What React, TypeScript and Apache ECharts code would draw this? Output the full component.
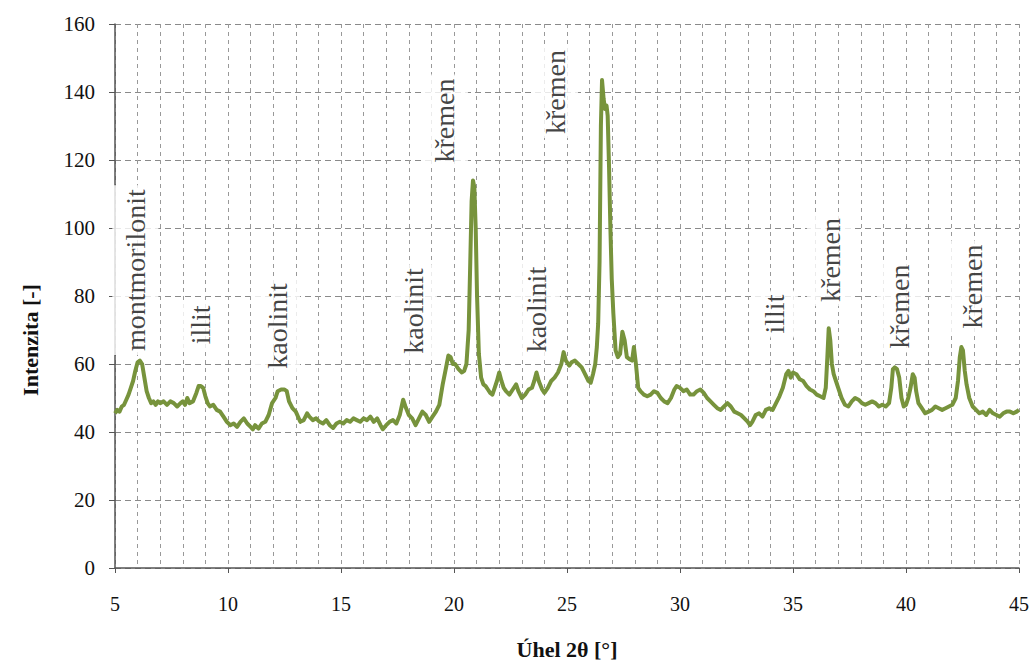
import React, { useEffect, useRef } from 'react';
import * as echarts from 'echarts';

// 2θ angles [°]
const angles = [
  5.0, 5.1, 5.2, 5.3, 5.4, 5.5, 5.6, 5.7, 5.8, 5.9, 6.0, 6.1, 6.2, 6.3, 6.4, 6.5, 6.6, 6.7, 6.8, 6.9,
  7.0, 7.15, 7.3, 7.45, 7.6, 7.75, 7.9, 8.0, 8.1, 8.2, 8.3, 8.45, 8.6, 8.7, 8.8, 8.9, 9.0, 9.1, 9.2, 9.35,
  9.5, 9.65, 9.8, 9.95, 10.1, 10.25, 10.4, 10.55, 10.7, 10.85, 11.0, 11.1, 11.2, 11.35, 11.5, 11.65, 11.8, 11.95, 12.1, 12.2,
  12.35, 12.5, 12.6, 12.7, 12.85, 13.0, 13.1, 13.2, 13.35, 13.5, 13.6, 13.75, 13.9, 14.05, 14.2, 14.35, 14.5, 14.65, 14.8, 14.95,
  15.1, 15.25, 15.4, 15.55, 15.7, 15.85, 16.0, 16.15, 16.3, 16.45, 16.6, 16.75, 16.85, 17.0, 17.15, 17.3, 17.45, 17.6, 17.75, 17.85,
  18.0, 18.15, 18.3, 18.45, 18.6, 18.75, 18.9, 19.05, 19.2, 19.35, 19.5, 19.65, 19.75, 19.85, 19.95, 20.05, 20.2, 20.35, 20.45, 20.55,
  20.65, 20.72, 20.78, 20.84, 20.9, 20.96, 21.02, 21.1, 21.2, 21.3, 21.4, 21.5, 21.6, 21.7, 21.8, 21.9, 22.0, 22.1, 22.2, 22.3,
  22.45, 22.6, 22.75, 22.85, 23.0, 23.15, 23.3, 23.45, 23.55, 23.65, 23.75, 23.9, 24.0, 24.15, 24.3, 24.45, 24.6, 24.75, 24.85, 24.95,
  25.1, 25.2, 25.35, 25.5, 25.65, 25.8, 25.95, 26.05, 26.15, 26.25, 26.32, 26.38, 26.44, 26.5, 26.55, 26.62, 26.68, 26.75, 26.8, 26.86,
  26.92, 26.98, 27.05, 27.15, 27.25, 27.35, 27.45, 27.55, 27.65, 27.75, 27.88, 27.96, 28.05, 28.15, 28.25, 28.4, 28.55, 28.7, 28.85, 29.0,
  29.15, 29.3, 29.45, 29.6, 29.75, 29.85, 30.0, 30.15, 30.3, 30.45, 30.6, 30.75, 30.9, 31.05, 31.2, 31.35, 31.5, 31.65, 31.8, 31.95,
  32.1, 32.25, 32.4, 32.55, 32.7, 32.85, 33.0, 33.1, 33.2, 33.35, 33.5, 33.65, 33.8, 33.95, 34.1, 34.25, 34.4, 34.55, 34.7, 34.8,
  34.9, 35.0, 35.15, 35.3, 35.45, 35.6, 35.75, 35.9, 36.05, 36.2, 36.35, 36.45, 36.52, 36.58, 36.65, 36.72, 36.8, 36.9, 37.0, 37.15,
  37.3, 37.45, 37.6, 37.75, 37.9, 38.05, 38.2, 38.35, 38.5, 38.65, 38.8, 38.95, 39.1, 39.25, 39.35, 39.42, 39.5, 39.6, 39.7, 39.8,
  39.9, 40.0, 40.1, 40.2, 40.3, 40.38, 40.45, 40.55, 40.7, 40.85, 41.0, 41.15, 41.3, 41.45, 41.6, 41.75, 41.9, 42.05, 42.2, 42.3,
  42.38, 42.45, 42.52, 42.6, 42.68, 42.8, 42.95, 43.1, 43.25, 43.4, 43.55, 43.7, 43.85, 44.0, 44.15, 44.3, 44.45, 44.6, 44.75, 44.9,
  45.0,
];

// Intensity [-]
const intensities = [
  45.5, 46.5, 46, 47.5, 48, 49.5, 51, 53, 55, 58, 60.5, 61, 60, 56, 52, 50, 48.5, 49, 48, 49,
  48.5, 49, 48, 49, 48.5, 47.5, 48.5, 49, 48, 50, 48.5, 49, 51.5, 53.5, 53.5, 53, 50.5, 48.5, 47.5, 48,
  46.5, 46, 44.5, 43, 42, 42.5, 41.5, 43, 44, 42.5, 41.5, 40.8, 42, 41, 42.5, 43, 45, 48.5, 50, 52,
  52.5, 52.5, 52, 49, 47, 46, 44.5, 43, 43.5, 45.5, 44.5, 43.5, 44, 43, 42.5, 43.5, 42, 41.2, 42.5, 43,
  42.5, 43.5, 43, 44, 43.5, 43, 44, 43.5, 44.5, 43, 44, 42, 40.8, 42, 43, 43.5, 42.5, 45, 49.5, 47.5,
  45, 44, 42, 44, 46, 45, 43, 44.5, 46, 48, 54, 59, 62.5, 62, 60, 60, 58.5, 57.5, 58, 60,
  70, 90, 108, 114, 112, 100, 80, 63, 56, 54, 53.5, 52.5, 51.5, 51, 53, 55, 57.5, 55, 53, 52,
  51, 52.5, 54, 52, 50, 51, 52.5, 53, 55, 57.5, 55, 52.5, 51.5, 53, 55, 56, 57.5, 60, 63.5, 61,
  59.5, 60.5, 61, 60, 59, 57, 55, 54.5, 57, 60, 65, 72, 90, 130, 143.5, 138, 135, 136, 133, 118,
  100, 85, 75, 64, 62, 63, 69.5, 67, 62, 61.5, 61, 65, 60, 53, 52, 51, 50.5, 51, 52, 51.5,
  50, 49, 48.5, 50, 52.5, 53.5, 53, 52, 52.5, 51, 51, 52, 52.5, 51.5, 50, 49, 48, 47, 46.5, 47.5,
  48.5, 47.5, 46, 45.5, 45, 44, 43, 42, 43, 45, 45.5, 44.5, 46.5, 47, 46.5, 48.5, 50.5, 53, 57, 58,
  56, 57.5, 57, 55.5, 55, 53.5, 52.5, 52, 51, 50.5, 50, 53, 62, 70.5, 67, 60, 57, 55, 53, 50,
  48, 47.5, 49, 50, 49.5, 48.5, 48, 48.5, 49, 48.5, 47.5, 48, 47.5, 48.5, 53, 58.5, 59, 58.5, 56, 50,
  47.5, 48, 50, 53, 57, 56, 52, 48.5, 47, 45.5, 46, 46.5, 47.5, 47, 46.5, 47, 47.5, 48, 50, 55,
  62, 65, 64, 58, 54, 50, 47.5, 46.5, 45.5, 46, 45, 46.5, 45.5, 45, 44.5, 45.5, 46, 46, 45.5, 46,
  46.5,
];

// Peak annotations
const labelTexts = ['montmorilonit', 'illit', 'kaolinit', 'kaolinit', 'křemen', 'kaolinit', 'křemen', 'illit', 'křemen', 'křemen', 'křemen'];
const labelAngles = [5.9, 8.78, 12.17, 18.23, 19.6, 23.67, 24.47, 34.2, 36.64, 39.73, 42.96];
const labelValues = [87.6, 71.5, 71.2, 75.6, 131.6, 76, 140, 74.7, 90.6, 76.9, 82.8];

const FONT = 'Liberation Serif';

export default function App() {
  const ref = useRef<HTMLDivElement>(null);

  useEffect(() => {
    const chart = echarts.init(ref.current!, undefined, { renderer: 'svg' });
    const lineData = angles.map((a, i) => [a, intensities[i]]);
    const labelData = labelTexts.map((t, i) => ({ value: [labelAngles[i], labelValues[i]], name: t }));

    chart.setOption({
      animation: false,
      backgroundColor: '#ffffff',
      textStyle: { fontFamily: FONT },
      grid: { left: 115, right: 16, top: 24, bottom: 98 },
      xAxis: {
        type: 'value',
        min: 5,
        max: 45,
        interval: 5,
        name: 'Úhel 2θ [°]',
        nameLocation: 'middle',
        nameGap: 70,
        nameTextStyle: { fontFamily: FONT, fontSize: 22, fontWeight: 'bold', color: '#111' },
        axisLine: { show: true, onZero: false, lineStyle: { color: '#555', width: 1.5 } },
        axisTick: { show: true, length: 5, lineStyle: { color: '#555' } },
        axisLabel: { margin: 26, fontFamily: FONT, fontSize: 20, color: '#111' },
        splitLine: { show: true, lineStyle: { color: '#999', type: [4, 4], width: 1 } },
        minorTick: { show: false, splitNumber: 5 },
        minorSplitLine: { show: true, lineStyle: { color: '#999', type: [4, 4], width: 1 } },
      },
      yAxis: {
        type: 'value',
        min: 0,
        max: 160,
        interval: 20,
        axisLine: { show: true, lineStyle: { color: '#555', width: 1.5 } },
        axisTick: { show: true, length: 6, lineStyle: { color: '#555' } },
        axisLabel: { margin: 20, fontFamily: FONT, fontSize: 21, color: '#111' },
        splitLine: { show: true, lineStyle: { color: '#8a8a8a', type: [6, 4], width: 1 } },
      },
      graphic: [
        {
          type: 'text',
          x: 30,
          y: 340,
          rotation: Math.PI / 2,
          style: {
            text: 'Intenzita [-]',
            fontFamily: FONT,
            fontSize: 22,
            fontWeight: 'bold',
            fill: '#111',
            textAlign: 'center',
            textVerticalAlign: 'middle',
          },
        },
      ],
      series: [
        {
          type: 'line',
          data: lineData,
          showSymbol: false,
          symbol: 'none',
          z: 2,
          lineStyle: { color: '#77933C', width: 4, join: 'round' },
        },
        {
          type: 'scatter',
          data: labelData,
          symbolSize: 0,
          z: 5,
          silent: true,
          label: {
            show: true,
            position: 'inside',
            rotate: 90,
            formatter: (p: any) => p.name,
            fontFamily: FONT,
            fontSize: 28,
            color: '#111',
            backgroundColor: '#ffffff',
            padding: [9, 4],
            align: 'center',
            verticalAlign: 'middle',
          },
        },
      ],
    });
    return () => chart.dispose();
  }, []);

  return <div ref={ref} style={{ position: 'fixed', left: 0, top: 0, width: 1035, height: 666 }} />;
}
